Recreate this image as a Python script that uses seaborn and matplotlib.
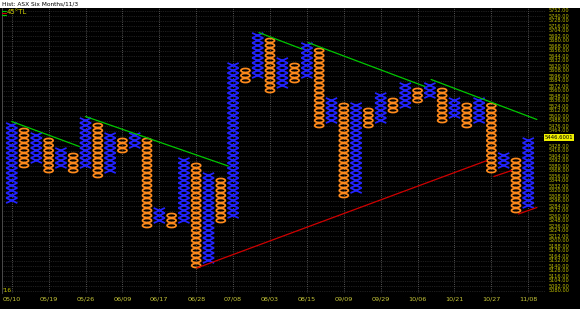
import matplotlib
matplotlib.use("Agg")
import numpy as np
import pandas as pd
import seaborn as sns
import matplotlib.pyplot as plt
from matplotlib.path import Path
from matplotlib.markers import MarkerStyle

# ---------------- data ----------------
box_size = 12.0
col_type = ["X", "O"] * 21 + ["X"]
col_low = [5296, 5380, 5392, 5368, 5380, 5368, 5380, 5356, 5368, 5416,
           5428, 5236, 5248, 5236, 5248, 5140, 5152, 5248, 5260, 5584,
           5596, 5560, 5572, 5584, 5596, 5476, 5488, 5308, 5320, 5476,
           5488, 5512, 5524, 5536, 5548, 5488, 5500, 5476, 5488, 5368,
           5380, 5272, 5284]
col_high = [5476, 5464, 5452, 5440, 5416, 5404, 5488, 5476, 5452, 5440,
            5452, 5440, 5272, 5260, 5392, 5380, 5356, 5344, 5620, 5608,
            5692, 5680, 5632, 5620, 5668, 5656, 5536, 5524, 5524, 5512,
            5548, 5536, 5572, 5560, 5572, 5560, 5536, 5524, 5536, 5524,
            5404, 5392, 5440]
date_labels = ["05/10", "05/19", "05/26", "06/09", "06/17", "06/28", "07/08",
               "08/03", "08/15", "09/09", "09/29", "10/06", "10/21", "10/27",
               "11/08"]
date_cols = list(range(0, 43, 3))
price_levels = np.arange(5080, 5753, box_size)
current_price = 5446.6001

# trend lines: (col0, price0, col1, price1)
green_lines = [(0.0, 5485.6, 5.5, 5425.6),
               (6.0, 5497.6, 17.6, 5378.8),
               (20.1, 5699.0, 23.6, 5659.6),
               (24.1, 5675.0, 33.6, 5569.6),
               (34.1, 5586.4, 42.7, 5490.4)]
red_lines = [(15.05, 5134.0, 38.6, 5391.5),
             (39.2, 5353.6, 40.65, 5368.0),
             (41.2, 5263.6, 42.7, 5279.2)]

# ---------------- build boxes ----------------
recs = []
for i, (t, lo, hi) in enumerate(zip(col_type, col_low, col_high)):
    for p in np.arange(lo, hi + box_size / 2, box_size):
        recs.append((i, t, p))
df = pd.DataFrame(recs, columns=["col", "type", "price"])

sns.set_theme(style="dark")
plt.rcParams["font.family"] = ["DejaVu Sans"]

W, H = 580, 309
fig = plt.figure(figsize=(W / 100, H / 100), dpi=100, facecolor="black")
ax = fig.add_axes([2 / W, 1 - 293 / H, (545 - 2) / W, (293 - 8) / H])
ax.set_facecolor("black")

# markers
xpath = Path([(-0.5, -0.23), (0.5, 0.23), (-0.5, 0.23), (0.5, -0.23)],
             [Path.MOVETO, Path.LINETO, Path.MOVETO, Path.LINETO])
uc = Path.unit_circle()
opath = Path(uc.vertices * np.array([1.0, 0.45]), uc.codes)

blue = "#2323ff"
orange = "#ff8a1c"

sns.scatterplot(data=df[df["type"] == "X"], x="col", y="price",
                marker=MarkerStyle(xpath), s=66, facecolor="none",
                edgecolor=blue, linewidth=1.25, ax=ax, legend=False, zorder=3)
sns.scatterplot(data=df[df["type"] == "O"], x="col", y="price",
                marker=MarkerStyle(opath), s=42, facecolor="none",
                edgecolor=orange, linewidth=1.25, ax=ax, legend=False, zorder=3)

for c0, p0, c1, p1 in green_lines:
    ax.plot([c0, c1], [p0, p1], color="#00c800", lw=0.9, zorder=4)
for c0, p0, c1, p1 in red_lines:
    ax.plot([c0, c1], [p0, p1], color="#d00000", lw=0.9, zorder=4)

ax.set_xlim(-0.79, 43.36)
ax.set_ylim(5074, 5758)
ax.set_xlabel("")
ax.set_ylabel("")

ax.set_xticks(date_cols)
ax.set_xticklabels(date_labels)
ax.tick_params(axis="x", length=0, pad=2.5, labelsize=4.6, labelcolor="#c8c83a")
ax.yaxis.tick_right()
ax.set_yticks(price_levels)
ax.set_yticklabels(["" if abs(v - current_price) < 9 else f"{v:.2f}" for v in price_levels])
ax.tick_params(axis="y", length=0, pad=2.5, labelsize=3.6, labelcolor="#c0c000")

ax.grid(False)
ax.xaxis.grid(True, color="#707070", linestyle=(0, (1, 1.6)), linewidth=0.6)
ax.yaxis.grid(True, color="#3c3c3c", linestyle=(0, (1, 1.6)), linewidth=0.5)
ax.set_axisbelow(True)
for name, sp in ax.spines.items():
    sp.set_visible(name == "left")
    sp.set_color("#555555")
    sp.set_linewidth(0.6)

# current price flag
ax.text(1.0, current_price, f"{current_price:.4f}", transform=ax.get_yaxis_transform(),
        ha="left", va="center", fontsize=3.8, color="black", clip_on=False,
        bbox=dict(boxstyle="square,pad=0.15", fc="#f0f000", ec="none"), zorder=6)

# top white title strip
fig.patches.append(plt.Rectangle((0, 1 - 8 / H), 1, 8 / H, transform=fig.transFigure,
                                 facecolor="white", edgecolor="none", zorder=0))
fig.text(2 / W, 1 - 4 / H, "Hist: ASX Six Months/11/3", fontsize=4.2, color="black",
         ha="left", va="center")

# legend "45°TL"
for j, colr in enumerate(["#00c800", "#d00000", "#00c800"]):
    yy = 1 - (10.5 + j * 2) / H
    fig.add_artist(plt.Line2D([2 / W, 6 / W], [yy, yy], transform=fig.transFigure,
                              color=colr, lw=0.8))
fig.text(7 / W, 1 - 12.5 / H, "45°TL", fontsize=5, color="#c8c800", ha="left", va="center")

# year mark
fig.text(2 / W, 1 - 290 / H, "'16", fontsize=4.2, color="#c8c800", ha="left", va="center")

fig.savefig("out.png", dpi=100, facecolor="black")
